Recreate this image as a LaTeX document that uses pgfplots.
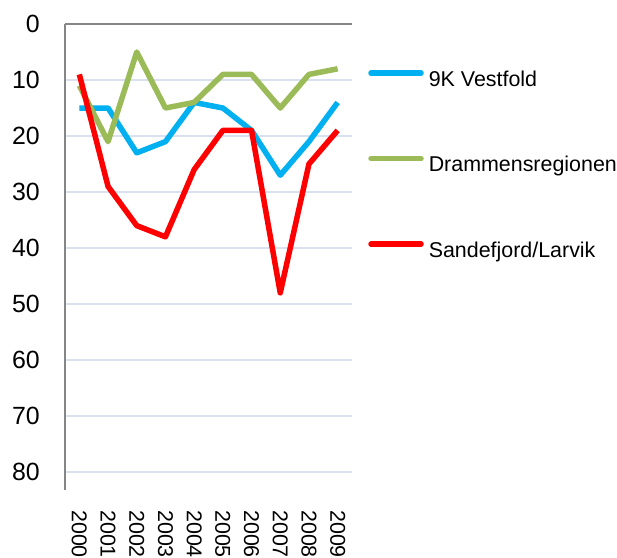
\documentclass[border=0pt]{standalone}
\usepackage{fontspec}
\setmainfont{Liberation Sans}
\usepackage{pgfplots}
\pgfplotsset{compat=1.18}

\definecolor{cblue}{RGB}{0,176,240}
\definecolor{cgreen}{RGB}{155,187,89}
\definecolor{cred}{RGB}{255,0,0}
\definecolor{cgrid}{RGB}{217,225,240}
\definecolor{caxis}{RGB}{134,134,134}

\begin{document}
\begin{tikzpicture}
\useasboundingbox (-65bp,-68bp) rectangle (552bp,490bp);
\begin{axis}[
    scale only axis,
    width=287bp, height=466bp,
    xmin=-0.5, xmax=9.5,
    ymin=0, ymax=83.2,
    y dir=reverse,
    ytick={0,10,...,80},
    xtick={0,...,9},
    xticklabels={2000,2001,2002,2003,2004,2005,2006,2007,2008,2009},
    axis y line*=left,
    axis x line*=bottom,
    x axis line style={draw=none},
    y axis line style={draw=caxis, line width=1.5bp},
    major tick length=0pt,
    ymajorgrids,
    grid style={draw=cgrid, line width=1.3bp},
    yticklabel style={font=\fontsize{25}{30}\selectfont, inner sep=0pt, xshift=-25bp},
    /pgf/number format/assume math mode=true,
    xticklabel style={font=\fontsize{21.5}{26}\selectfont, rotate=-90, anchor=west,
        inner sep=0pt, xshift=20bp},
    legend style={at={(axis description cs:1.056,0.9015)}, anchor=north west,
        draw=none, fill=none, inner sep=0pt, row sep=64.5bp, column sep=5bp,
        font=\fontsize{21.5}{26}\selectfont,
        nodes={inner sep=0pt, text height=16bp, text depth=5bp}},
    legend cell align=left,
    legend image code/.code={\draw[#1, line cap=round] (3bp,7.5bp) -- (53bp,7.5bp);},
    every axis plot/.append style={line width=5.5bp, mark=none, line join=round},
    after end axis/.code={
        \draw[caxis, line width=1.5bp] (axis cs:-0.5,0) -- (axis cs:9.5,0);
    },
]
\addplot[cblue] coordinates {
(0,15) (1,15) (2,23) (3,21) (4,14) (5,15) (6,19) (7,27) (8,21) (9,14)};
\addlegendentry{9K Vestfold}
\addplot[cgreen] coordinates {
(0,11) (1,21) (2,5) (3,15) (4,14) (5,9) (6,9) (7,15) (8,9) (9,8)};
\addlegendentry{Drammensregionen}
\addplot[cred] coordinates {
(0,9) (1,29) (2,36) (3,38) (4,26) (5,19) (6,19) (7,48) (8,25) (9,19)};
\addlegendentry{Sandefjord/Larvik}
\end{axis}
\end{tikzpicture}
\end{document}
